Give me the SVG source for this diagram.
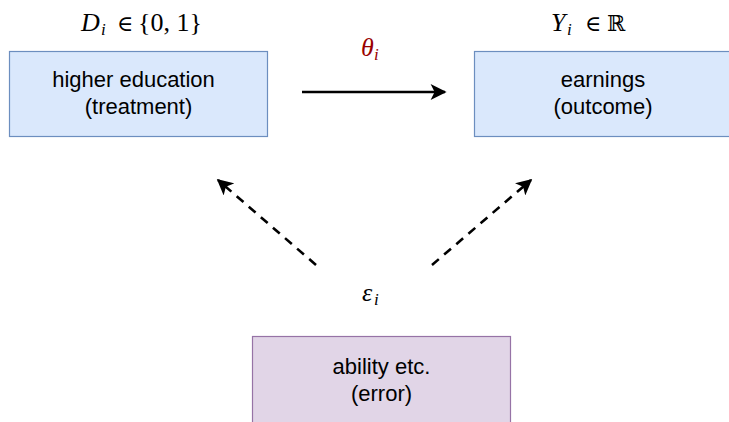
<svg xmlns="http://www.w3.org/2000/svg" width="729" height="422" viewBox="0 0 729 422">
  <style>
    .blue { fill: #dae8fc; stroke: #6c8ebf; stroke-width: 1.2; }
    .purple { fill: #e1d5e7; stroke: #9673a6; stroke-width: 1.2; }
    .lbl { font-family: "Liberation Sans", Arial, sans-serif; font-size: 22px; fill: #000; text-anchor: middle; }
    .math { font-family: "Liberation Serif", "DejaVu Serif", serif; font-size: 26px; fill: #000; }
    .it { font-style: italic; }
    .sub { font-size: 17px; font-style: italic; }
    .sym { font-family: "DejaVu Serif", "Liberation Serif", serif; font-size: 22px; }
    .theta { fill: #990000; }
    .solid { stroke: #000; stroke-width: 2.6; fill: none; }
    .dash { stroke: #000; stroke-width: 2.6; fill: none; stroke-dasharray: 9 7; }
  </style>
  <defs>
    <marker id="head" viewBox="0 0 10 10" refX="9" refY="5" markerWidth="18" markerHeight="16" markerUnits="userSpaceOnUse" orient="auto">
      <path d="M0,0 L10,5 L0,10 L2.5,5 Z" fill="#000"/>
    </marker>
  </defs>

  <g id="treatment">
    <rect class="blue" x="9.5" y="51.5" width="258" height="85"/>
    <text class="lbl" x="133.5" y="87">higher education</text>
    <text class="lbl" x="138.5" y="114">(treatment)</text>
    <text class="math" y="31"><tspan class="it" x="81">D</tspan><tspan class="sub" x="101" y="35">i</tspan><tspan class="sym" x="117" y="31">∈</tspan><tspan x="138" y="31">{0, 1}</tspan></text>
  </g>

  <g id="outcome">
    <rect class="blue" x="474.5" y="51.5" width="262" height="85"/>
    <text class="lbl" x="603" y="87">earnings</text>
    <text class="lbl" x="603" y="114">(outcome)</text>
    <text class="math" y="31"><tspan class="it" x="551">Y</tspan><tspan class="sub" x="567" y="35">i</tspan><tspan class="sym" x="585" y="31">∈</tspan><tspan class="sym" x="607" y="31">ℝ</tspan></text>
  </g>

  <g id="error">
    <rect class="purple" x="252.5" y="336.5" width="258" height="90"/>
    <text class="lbl" x="381.5" y="374">ability etc.</text>
    <text class="lbl" x="381.5" y="401">(error)</text>
    <text class="math" y="301"><tspan class="it" x="362">ε</tspan><tspan class="sub" x="374" y="305">i</tspan></text>
  </g>

  <g id="connectors">
    <line class="solid" x1="302" y1="92" x2="445" y2="92" marker-end="url(#head)"/>
    <text class="math theta" y="56"><tspan class="it" x="361">θ</tspan><tspan class="sub" x="374" y="60">i</tspan></text>
    <line class="dash" x1="316" y1="265" x2="218" y2="180" marker-end="url(#head)"/>
    <line class="dash" x1="432" y1="265" x2="531" y2="180" marker-end="url(#head)"/>
  </g>
</svg>
